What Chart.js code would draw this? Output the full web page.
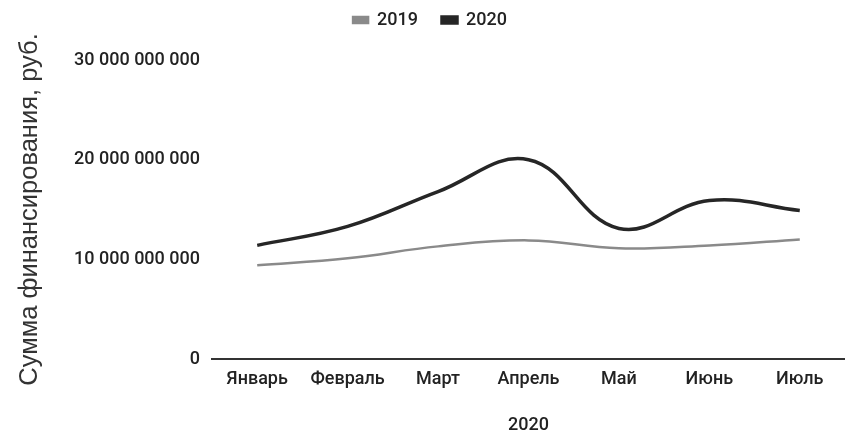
<!DOCTYPE html>
<html>
<head>
<meta charset="utf-8">
<script src="https://cdn.jsdelivr.net/npm/chart.js@4/dist/chart.umd.min.js"></script>
<style>
  html, body { margin: 0; padding: 0; background: #fff; }
  #wrap { width: 845px; height: 433px; }
</style>
</head>
<body>
<div id="wrap"><canvas id="chart"></canvas></div>
<script>
// Data
const months = ['Январь', 'Февраль', 'Март', 'Апрель', 'Май', 'Июнь', 'Июль'];
const values2019 = [9.4e9, 10.1e9, 11.3e9, 11.9e9, 11.1e9, 11.4e9, 12.0e9];
const values2020 = [11.4e9, 13.3e9, 16.8e9, 20.0e9, 13.1e9, 15.9e9, 14.9e9];
const yTicks = [0, 10e9, 20e9, 30e9];

const labelFont = { family: 'Roboto, "Liberation Sans", Arial', size: 18, weight: 500 };

function spaced(v) {
  return String(Math.round(v)).replace(/\B(?=(\d{3})+(?!\d))/g, ' ');
}

// fixed legend height so the plot starts where the reference does
const legendHeight = {
  id: 'legendHeight',
  afterInit(chart) {
    const legend = chart.legend;
    const fit = legend.fit;
    legend.fit = function () {
      fit.call(this);
      this.height = 73;
    };
  }
};

new Chart(document.getElementById('chart'), {
  type: 'line',
  data: {
    labels: months,
    datasets: [
      {
        label: '2019',
        data: values2019,
        borderColor: '#8a8a8a',
        backgroundColor: '#8a8a8a',
        borderWidth: 2.5,
        tension: 0.4,
        pointRadius: 0,
      },
      {
        label: '2020',
        data: values2020,
        borderColor: '#262626',
        backgroundColor: '#262626',
        borderWidth: 3.5,
        tension: 0.4,
        pointRadius: 0,
      }
    ]
  },
  plugins: [legendHeight],
  options: {
    responsive: true,
    maintainAspectRatio: false,
    animation: false,
    layout: { padding: { left: 15, right: 0, top: -13, bottom: 0 } },
    plugins: {
      legend: {
        position: 'top',
        labels: {
          color: '#222',
          font: labelFont,
          boxWidth: 15,
          boxHeight: 6,
          padding: 24,
        }
      },
      tooltip: { enabled: false }
    },
    scales: {
      x: {
        offset: true,
        grid: { display: false, tickLength: 0 },
        border: { display: true, color: '#333', width: 2 },
        afterFit: (scale) => { scale.height = 74; },
        ticks: { color: '#222', font: labelFont, padding: 10, maxRotation: 0 },
        title: {
          display: true,
          text: '2020',
          color: '#222',
          font: labelFont,
          padding: { top: 0, bottom: -3 }
        }
      },
      y: {
        min: 0,
        max: 30e9,
        grid: { display: false, tickLength: 0 },
        border: { display: false },
        afterBuildTicks: (scale) => { scale.ticks = yTicks.map(v => ({ value: v })); },
        afterFit: (scale) => { scale.width = 197; },
        ticks: {
          color: '#222',
          font: labelFont,
          padding: 12,
          callback: (v) => spaced(v)
        },
        title: {
          display: true,
          text: 'Сумма финансирования, руб.',
          color: '#333',
          font: { family: '"Liberation Sans", Arial', size: 25.5 },
          padding: 0
        }
      }
    }
  }
});
</script>
</body>
</html>
